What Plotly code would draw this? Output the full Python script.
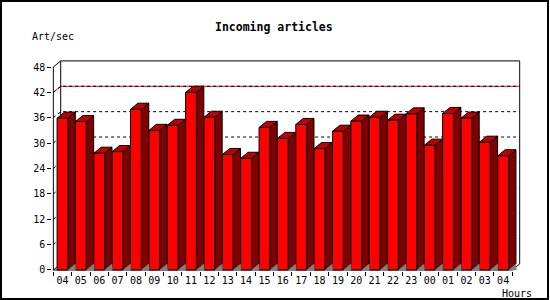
import plotly.graph_objects as go

# ---- data ----
hours = ["04", "05", "06", "07", "08", "09", "10", "11", "12", "13", "14", "15", "16",
         "17", "18", "19", "20", "21", "22", "23", "00", "01", "02", "03", "04"]
art_per_sec = [35.9, 35.1, 27.6, 28.0, 38.0, 33.0, 34.2, 42.0, 36.1, 27.3, 26.4, 33.7, 31.1,
               34.4, 28.7, 32.8, 35.2, 36.1, 35.4, 36.9, 29.5, 37.0, 35.9, 30.2, 27.0]
y_ticks = [0, 6, 12, 18, 24, 30, 36, 42, 48]
max_line = 42

# ---- geometry (3D look) ----
W, H = 550, 300
sx = 18.36          # px per category
x0px = 62.5         # pixel of first category
sy = 4.229          # px per unit
y0px = 270.0        # pixel of value 0
dxu = 7.4 / sx      # depth offset in x units
dyu = 6.1 / sy      # depth offset in y units
hw = 0.294          # half width of front face
n = len(hours)
xl_edge, xr_edge = -0.5, n - 0.5
ytop = y_ticks[-1]

xa, xb = xl_edge - 0.06, xr_edge + dxu + 0.06
ya, yb = -0.3, ytop + dyu + 0.3
dom_x = [(x0px + xa * sx) / W, (x0px + xb * sx) / W]
dom_y = [1 - (y0px - ya * sy) / H, 1 - (y0px - yb * sy) / H]

FONT = "DejaVu Sans Mono"
fig = go.Figure()

def add_path(xs, ys, color="black", width=1, dash="solid", fill=None, fillcolor=None, xaxis="x"):
    fig.add_trace(go.Scatter(x=xs, y=ys, mode="lines", xaxis=xaxis,
                             line=dict(color=color, width=width, dash=dash),
                             fill=fill, fillcolor=fillcolor,
                             hoverinfo="skip", showlegend=False))

# back-wall gridlines (with diagonal on left wall)
gx, gy = [], []
for v in y_ticks[1:-1]:
    if v == max_line:
        continue
    gx += [xl_edge, xl_edge + dxu, xr_edge + dxu, None]
    gy += [v, v + dyu, v + dyu, None]
add_path(gx, gy, dash="dot")
# max line (red / black dashed)
mx = [xl_edge, xl_edge + dxu, xr_edge + dxu]
my = [max_line, max_line + dyu, max_line + dyu]
add_path(mx, my, color="#ff0000")
add_path(mx, my, color="black", dash="3px,3px")

# frame: front y axis, top diagonal, back wall, floor outline
add_path([xl_edge, xl_edge, xl_edge + dxu, xr_edge + dxu, xr_edge + dxu, xr_edge, xl_edge, xl_edge + dxu, xl_edge + dxu],
         [0, ytop, ytop + dyu, ytop + dyu, dyu, 0, 0, dyu, ytop + dyu])

# floor triangles under bar sides
fx, fy = [], []
for i in range(n):
    r = i + hw
    fx += [r, r + dxu + 0.02, r + dxu, r, None]
    fy += [0, 0, dyu, 0, None]
add_path(fx, fy, fill="toself", fillcolor="#808080", width=0.5, color="#808080", xaxis="x2")

# bars: sides, tops, fronts
sxs, sys_, txs, tys, fxs, fys = [], [], [], [], [], []
for i, v in enumerate(art_per_sec):
    l, r = i - hw, i + hw
    sxs += [r, r + dxu, r + dxu, r, r, None]
    sys_ += [0, dyu, v + dyu, v, 0, None]
    txs += [l, r, r + dxu, l + dxu, l, None]
    tys += [v, v, v + dyu, v + dyu, v, None]
    fxs += [l, r, r, l, l, None]
    fys += [0, 0, v, v, 0, None]
add_path(sxs, sys_, fill="toself", fillcolor="#800000")
add_path(txs, tys, fill="toself", fillcolor="#c00000")
add_path(fxs, fys, fill="toself", fillcolor="#ff0000")

tickfont = dict(family=FONT, size=10, color="black")
fig.update_layout(
    width=W, height=H,
    margin=dict(l=0, r=0, t=0, b=0),
    paper_bgcolor="white", plot_bgcolor="white",
    showlegend=False,
    xaxis=dict(domain=dom_x, range=[xa, xb], showgrid=False, zeroline=False, showline=False,
               tickmode="array", tickvals=list(range(n)), ticktext=hours,
               ticks="", tickfont=tickfont, automargin=False, fixedrange=True,
               ticklabelstandoff=2),
    xaxis2=dict(domain=dom_x, range=[xa, xb], overlaying="x", anchor="y", side="bottom",
                showgrid=False, zeroline=False, showline=False, showticklabels=False,
                tickmode="array", tickvals=[i - 0.5 for i in range(n + 1)],
                ticks="outside", ticklen=4, tickcolor="black", tickwidth=1, automargin=False),
    yaxis=dict(domain=dom_y, range=[ya, yb], showgrid=False, zeroline=False, showline=False,
               tickmode="array", tickvals=y_ticks, ticktext=[str(t) for t in y_ticks],
               ticks="outside", ticklen=4, tickcolor="black", tickwidth=1,
               tickfont=tickfont, automargin=False, fixedrange=True),
    shapes=[dict(type="rect", xref="paper", yref="paper",
                 x0=1 / W, x1=548 / W, y0=1 - 299 / H, y1=1 - 1 / H,
                 line=dict(color="black", width=2), fillcolor="rgba(0,0,0,0)")],
    annotations=[
        dict(text="<b>Incoming articles</b>", xref="paper", yref="paper", x=274 / W, y=1 - 27 / H,
             xanchor="center", yanchor="middle", showarrow=False,
             font=dict(family=FONT, size=11.5, color="black")),
        dict(text="Art/sec", xref="paper", yref="paper", x=30 / W, y=1 - 37 / H,
             xanchor="left", yanchor="middle", showarrow=False,
             font=dict(family=FONT, size=10, color="black")),
        dict(text="Hours", xref="paper", yref="paper", x=534 / W, y=1 - 293 / H,
             xanchor="right", yanchor="middle", showarrow=False,
             font=dict(family=FONT, size=10, color="black")),
    ],
)

fig.write_html("out.html")
